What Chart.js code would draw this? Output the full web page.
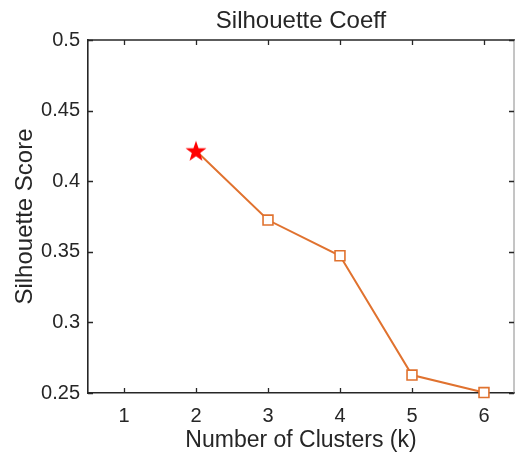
<!DOCTYPE html>
<html>
<head>
<meta charset="utf-8">
<script src="https://cdn.jsdelivr.net/npm/chart.js@4.4.1/dist/chart.umd.min.js"></script>
<style>
  html, body { margin: 0; padding: 0; background: #fff; }
  canvas { display: block; }
</style>
</head>
<body>
<canvas id="chart" width="515" height="454"></canvas>
<script>
const kValues = [2, 3, 4, 5, 6];
const scores = [0.4216, 0.3725, 0.3472, 0.2627, 0.2503];
const bestK = 2;
const xTicks = [1, 2, 3, 4, 5, 6];
const yTicks = [0.25, 0.3, 0.35, 0.4, 0.45, 0.5];

const axisColor = '#262626';
const lineColor = '#E0722F';
const fontFamily = '"Liberation Sans", Arial, Helvetica, sans-serif';

// filled red five-point star used as the marker for the best k
const makeStar = (outer) => {
  const size = outer * 2 + 2;
  const c = document.createElement('canvas');
  c.width = size;
  c.height = size;
  const g = c.getContext('2d');
  const cx = size / 2, cy = size / 2 + 1;
  const inner = outer * 0.4;
  g.beginPath();
  for (let i = 0; i < 10; i++) {
    const r = i % 2 === 0 ? outer : inner;
    const a = -Math.PI / 2 + i * Math.PI / 5;
    const px = cx + r * Math.cos(a);
    const py = cy + r * Math.sin(a);
    if (i === 0) g.moveTo(px, py); else g.lineTo(px, py);
  }
  g.closePath();
  g.fillStyle = '#FF0000';
  g.fill();
  return c;
};

// draws the top/right box lines and MATLAB style inward ticks
const boxPlugin = {
  id: 'box',
  beforeDatasetsDraw(chart) {
    const { ctx, chartArea: a, scales } = chart;
    const len = 5;
    ctx.save();
    ctx.strokeStyle = axisColor;
    ctx.lineWidth = 1.6;
    ctx.beginPath();
    ctx.moveTo(a.left, a.top);
    ctx.lineTo(a.right + 1, a.top);
    ctx.stroke();
    ctx.lineWidth = 1;
    ctx.strokeStyle = '#8a8a8a';
    ctx.beginPath();
    ctx.moveTo(a.right, a.top);
    ctx.lineTo(a.right, a.bottom);
    ctx.stroke();
    ctx.strokeStyle = axisColor;
    ctx.lineWidth = 1.3;
    ctx.beginPath();
    xTicks.forEach((t) => {
      const px = Math.round(scales.x.getPixelForValue(t)) + 0.5;
      ctx.moveTo(px, a.bottom);
      ctx.lineTo(px, a.bottom - len);
      ctx.moveTo(px, a.top);
      ctx.lineTo(px, a.top + len);
    });
    yTicks.forEach((t) => {
      const py = Math.round(scales.y.getPixelForValue(t)) + 0.5;
      ctx.moveTo(a.left, py);
      ctx.lineTo(a.left + len, py);
      ctx.moveTo(a.right, py);
      ctx.lineTo(a.right - len, py);
    });
    ctx.stroke();
    ctx.restore();
  }
};

new Chart(document.getElementById('chart'), {
  type: 'scatter',
  data: {
    datasets: [
      {
        label: 'best',
        data: [{ x: bestK, y: scores[kValues.indexOf(bestK)] }],
        pointStyle: makeStar(11),
        pointRadius: 11,
        showLine: false,
        clip: false,
      },
      {
        label: 'score',
        data: kValues.map((k, i) => ({ x: k, y: scores[i] })),
        showLine: true,
        borderColor: lineColor,
        borderWidth: 2,
        pointStyle: 'rect',
        pointRadius: kValues.map((k) => (k === bestK ? 0 : 7)),
        pointBorderWidth: 1.6,
        pointBorderColor: lineColor,
        pointBackgroundColor: '#ffffff',
        clip: false,
      },
    ],
  },
  plugins: [boxPlugin],
  options: {
    responsive: false,
    animation: false,
    devicePixelRatio: 1,
    layout: { autoPadding: false, padding: { left: 0, right: 1, top: 0, bottom: 0 } },
    plugins: {
      legend: { display: false },
      tooltip: { enabled: false },
      title: {
        display: true,
        fullSize: false,
        text: 'Silhouette Coeff',
        color: axisColor,
        font: { family: fontFamily, size: 24, weight: 'normal' },
        padding: { top: 7, bottom: 4.2 },
      },
    },
    scales: {
      x: {
        type: 'linear',
        min: 0.5,
        max: 6.417,
        afterBuildTicks: (scale) => {
          scale.ticks = xTicks.map((v) => ({ value: v }));
        },
        afterFit: (scale) => {
          scale.height = 61;
          scale.paddingLeft = 0;
          scale.paddingRight = 0;
        },
        ticks: {
          color: axisColor,
          padding: 11,
          font: { family: fontFamily, size: 20 },
          callback: (v) => String(v),
        },
        grid: { display: false, drawTicks: false },
        border: { display: true, color: axisColor, width: 1.6 },
        title: {
          display: true,
          text: 'Number of Clusters (k)',
          color: axisColor,
          font: { family: fontFamily, size: 23 },
          padding: { top: 0, bottom: 0 },
        },
      },
      y: {
        type: 'linear',
        min: 0.25,
        max: 0.5,
        afterBuildTicks: (scale) => {
          scale.ticks = yTicks.map((v) => ({ value: v }));
        },
        afterFit: (scale) => {
          scale.width = 88;
          scale.paddingTop = 0;
          scale.paddingBottom = 0;
        },
        ticks: {
          color: axisColor,
          padding: 8,
          font: { family: fontFamily, size: 20 },
          callback: (v) => String(Number(v.toFixed(2))),
        },
        grid: { display: false, drawTicks: false },
        border: { display: true, color: axisColor, width: 1.6 },
        title: {
          display: true,
          text: 'Silhouette Score',
          color: axisColor,
          font: { family: fontFamily, size: 24 },
          padding: { top: 10.6, bottom: 0 },
        },
      },
    },
  },
});
</script>
</body>
</html>
